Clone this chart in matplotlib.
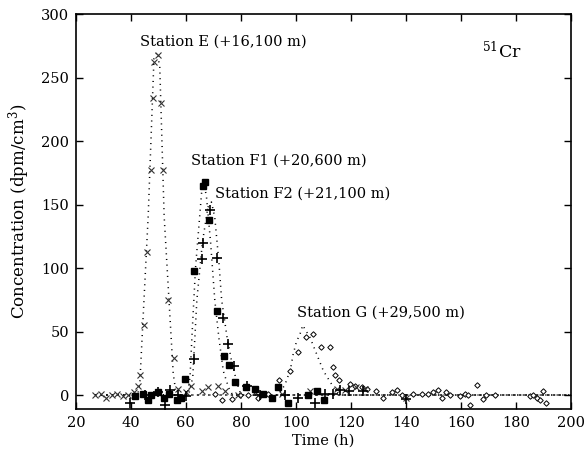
import matplotlib
matplotlib.use("Agg")
import matplotlib.pyplot as plt

plt.rcParams['font.family'] = ['DejaVu Serif']
plt.rcParams['mathtext.fontset'] = 'dejavuserif'

# ---- Data ----
# Station E (x markers)
e_t = [27, 29, 31, 33, 35, 37, 39, 41, 42.7, 43.5, 44.7, 45.9, 47.2, 48.1, 48.4, 49.9,
       50.9, 51.7, 53.6, 55.7, 57, 60, 62, 65.7, 68, 71.6, 74.2, 78.9, 85, 95, 105,
       115, 118, 122, 125, 140]
e_c = [0, 1, -2, 0, 1, -1, 0, 2, 7, 16, 55, 113, 177, 234, 262, 268,
       230, 177, 75, 29, 5, 2, 7, 3, 6, 7, 3, 0, 2, 1, 3,
       5, 4, 6, 5, -2]

# Station F1 (filled squares)
f1_t = [41.5, 44.5, 46.3, 47.5, 49.9, 52, 54, 56.6, 58.4, 59.6, 62.9, 66.3, 66.9, 68.4,
        71.2, 73.8, 75.6, 77.8, 81.8, 85.1, 88, 91.2, 93.6, 97.2, 104.3, 107.5, 110.2]
f1_c = [-1, 1, -4, 0, 2, -2, 1, -4, -2, 13, 98, 165, 168, 138,
        66, 31, 24, 10, 6, 5, 1, -2, 6, -6, 0, 3, -4]

# Station F2 (plus markers)
f2_t = [39.6, 45, 49.9, 52.4, 54.2, 57, 60, 63, 65.9, 66.3, 68.7, 71.2, 73.6, 75.4,
        77.6, 82.1, 86.9, 96, 100.8, 106.9, 110.5, 113.6, 116, 119.4, 124.5, 140]
f2_c = [-6, 0, 2, -8, 4, 0, -1, 28, 107, 120, 146, 108, 61, 40,
        23, 7, 0, 0, -2, -6, 1, 1, 4, 3, 3, -3]

# Station G (open diamonds)
g_t = [70.5, 73, 76.6, 79.6, 82.7, 86.3, 90, 93.9, 97.8, 100.8, 103.6, 106.3, 109.3,
       112.4, 113.5, 114.2, 115.7, 119.6, 121.5, 123.9, 126, 129.3, 131.7, 134.8, 136.6,
       138.4, 142.7, 145.7, 148.1, 150, 151.8, 153, 154.5, 156, 159.6, 161.5, 162.7,
       163.3, 165.7, 168.1, 169.1, 172.4, 185.1, 186.3, 187.7, 188.7, 189.9, 191.1]
g_c = [1, -4, -3, 0, 0, -2, 1, 12, 19, 34, 46, 48, 38,
       38, 22, 16, 12, 9, 7, 6, 5, 3, -2, 2, 4,
       0, 1, 1, 1, 2, 4, -2, 2, 0, -1, 1, 0,
       -8, 8, -3, 0, 0, -1, 0, -2, -4, 3, -6]

# Dotted curves (vertices)
ce_t = [27, 42.5, 43.3, 46.3, 48.4, 49.5, 50.5, 52.1, 55.4, 56.5, 200]
ce_c = [0, 0, 11, 141, 265, 270, 259, 141, 17, 0, 0]
cf1_t = [27, 60.5, 61.5, 62.3, 63.5, 65.7, 66.5, 67.5, 69, 70.5, 72, 73.6, 75.5, 77, 200]
cf1_c = [0, 0, 14, 50, 100, 159, 168, 156, 120, 75, 45, 19, 6, 0, 0]
cf2_t = [27, 61, 62.5, 64, 66, 68, 69.3, 70.5, 72, 73, 75, 76.5, 78.4, 80, 200]
cf2_c = [0, 0, 14, 75, 120, 148, 152, 140, 105, 75, 45, 28, 11, 0, 0]
cg_t = [27, 93.5, 96, 98, 99, 100.2, 101.5, 102.5, 103.5, 105, 106.3, 108.7, 110, 111.7, 114, 116, 200]
cg_c = [0, 0, 8, 20, 32, 42, 48, 55, 51, 46, 39, 26, 19, 13, 5, 0, 0]

labels = ["Station E (+16,100 m)", "Station F1 (+20,600 m)",
          "Station F2 (+21,100 m)", "Station G (+29,500 m)"]

x_ticks = [20, 40, 60, 80, 100, 120, 140, 160, 180, 200]
y_ticks = [0, 50, 100, 150, 200, 250, 300]

# ---- Figure ----
fig = plt.figure(figsize=(5.88, 4.59), dpi=100)
ax = fig.add_axes([0.129, 0.109, 0.842, 0.860])

dots = dict(color='black', lw=1.1, linestyle=(0, (0.7, 3.0)))
for ct, cc in [(ce_t, ce_c), (cf1_t, cf1_c), (cf2_t, cf2_c), (cg_t, cg_c)]:
    ax.plot(ct, cc, **dots)

ax.plot(g_t, g_c, linestyle='none', marker='D', ms=2.8, mfc='white', mec='black', mew=0.7)
ax.plot(e_t, e_c, linestyle='none', marker='x', ms=4, color='#333333', mew=0.8)
ax.plot(f1_t, f1_c, linestyle='none', marker='s', ms=4, color='black')
ax.plot(f2_t, f2_c, linestyle='none', marker='+', ms=7, color='black', mew=1.2)

fs = 10.5
ax.text(43.3, 278, labels[0], fontsize=fs, va='center', ha='left')
ax.text(61.8, 185, labels[1], fontsize=fs, va='center', ha='left')
ax.text(70.5, 159, labels[2], fontsize=fs, va='center', ha='left')
ax.text(100.4, 65, labels[3], fontsize=fs, va='center', ha='left')
ax.text(167.5, 271, r'$\mathregular{^{51}}$Cr', fontsize=12.5, va='center', ha='left')

ax.set_xlim(20, 200)
ax.set_ylim(-11, 300)
ax.set_xticks(x_ticks)
ax.set_yticks(y_ticks)
ax.tick_params(direction='in', length=5, width=1, top=True, right=True,
               labelsize=10.5, pad=5)
for s in ax.spines.values():
    s.set_linewidth(1.2)

ax.set_xlabel('Time (h)', fontsize=10.5, labelpad=3)
ax.set_ylabel(r'Concentration (dpm/cm$\mathregular{^3}$)', fontsize=12, labelpad=6)

fig.savefig('out.png', dpi=100)
